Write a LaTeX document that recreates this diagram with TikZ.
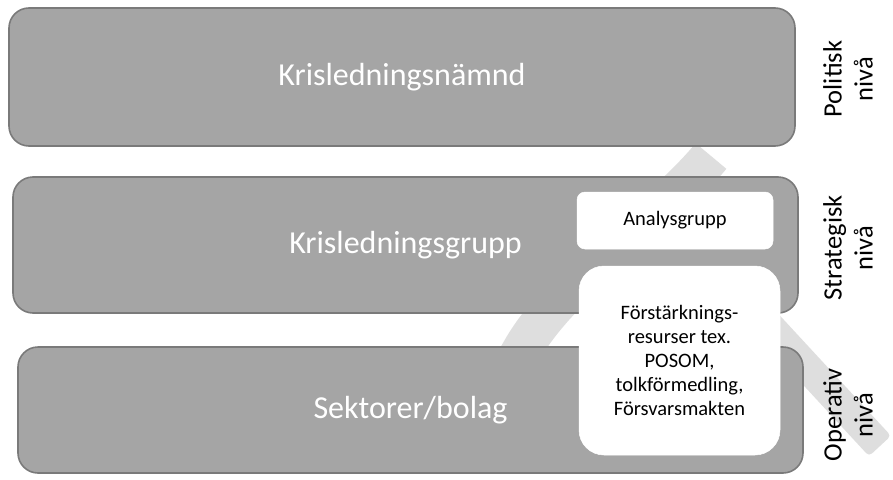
\documentclass[tikz,border=0pt]{standalone}
\usepackage{fontspec}
\setmainfont{Carlito}
\definecolor{boxgray}{HTML}{A5A5A5}
\definecolor{boxedge}{HTML}{7A7A7A}
\definecolor{bandgray}{HTML}{DEDEDE}
\begin{document}
\begin{tikzpicture}[x=1pt,y=-1pt,
  levelbox/.style={draw=boxedge, line width=1.6pt, fill=boxgray, rounded corners=20pt,
    inner sep=0pt, text=white, font=\fontsize{32}{38}\selectfont},
  whitebox/.style={draw=white, line width=0.5pt, fill=white, inner sep=0pt, align=center,
    text=black, font=\fontsize{20.5}{24}\selectfont},
  sidelabel/.style={rotate=90, align=center, inner sep=0pt, font=\fontsize{26.5}{31}\selectfont},
  band/.style={bandgray}]
\useasboundingbox (0,0) rectangle (893,479);
% decorative light band (mostly hidden)
\draw[band, line width=40pt] (711,156) .. controls (660,218) and (562,280) .. (522,350) -- (480,423);
\fill[band, rounded corners=4pt] (714.5,244.8) -- (891,435.8) -- (869,456.2) -- (692.5,265.2) -- cycle;
% levels
\node[levelbox, minimum width=786pt, minimum height=138pt] (b1) at (402,77) {Krisledningsnämnd};
\node[levelbox, minimum width=785pt, minimum height=136pt] (b2) at (405.5,245) {Krisledningsgrupp};
\node[levelbox, minimum width=785pt, minimum height=126pt] (b3) at (410.5,410) {Sektorer/bolag};
% white boxes
\node[whitebox, rounded corners=8pt, minimum width=196pt, minimum height=57pt] (ana) at (675,220.5) {Analysgrupp};
\node[whitebox, rounded corners=25pt, minimum width=201pt, minimum height=189pt] (res) at (679.5,360.5)
  {Förstärknings-\\resurser tex.\\POSOM,\\tolkförmedling,\\Försvarsmakten};
% side labels
\node[sidelabel] (l1) at (848,79) {Politisk\\nivå};
\node[sidelabel] (l2) at (848,248) {Strategisk\\nivå};
\node[sidelabel] (l3) at (848,415) {Operativ\\nivå};
\end{tikzpicture}
\end{document}
